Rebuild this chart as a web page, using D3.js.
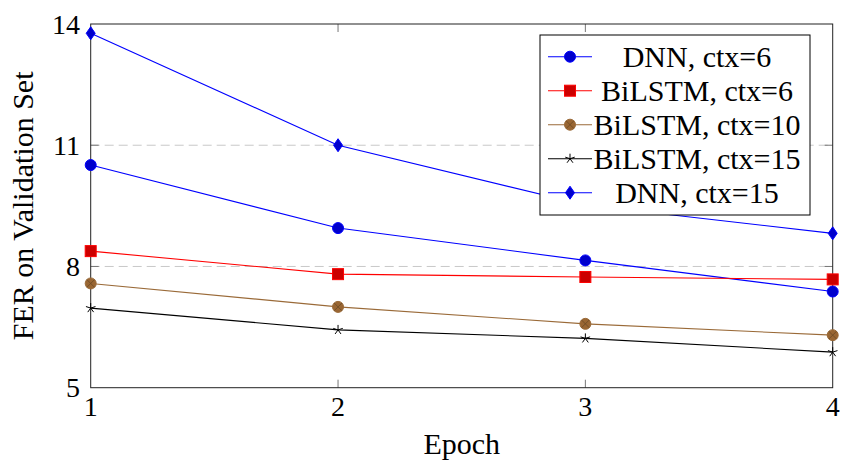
<!DOCTYPE html>
<html>
<head>
<meta charset="utf-8">
<script src="https://cdn.jsdelivr.net/npm/d3@7"></script>
<style>
  body { margin: 0; background: #fff; }
  svg { display: block; }
  text { font-family: "Liberation Serif", "DejaVu Serif", serif; fill: #000; }
</style>
</head>
<body>
<svg id="chart" width="844" height="465"></svg>
<script>
// data
let epochs = [1, 2, 3, 4];
let yTicks = [5, 8, 11, 14];
let dnn6 = [10.51, 8.95, 8.15, 7.38];
let bilstm6 = [8.38, 7.81, 7.74, 7.68];
let bilstm10 = [7.58, 7.0, 6.58, 6.30];
let bilstm15 = [6.97, 6.43, 6.22, 5.88];
let dnn15 = [13.77, 11.0, 9.52, 8.82];

let seriesNames = ["DNN, ctx=6", "BiLSTM, ctx=6", "BiLSTM, ctx=10", "BiLSTM, ctx=15", "DNN, ctx=15"];
let seriesValues = [dnn6, bilstm6, bilstm10, bilstm15, dnn15];
let lineColors = ["#0000ff", "#ff0000", "#9a6a38", "#000000", "#0000ff"];
let fillColors = ["#0000cc", "#cc0000", "#996633", "#000000", "#0000cc"];
let markTypes = ["circle", "square", "otimes", "star", "diamond"];

let svg = d3.select("#chart");

let pLeft = 90.7, pRight = 832.7, pTop = 24, pBottom = 387.7;

let x = d3.scaleLinear().domain([1, 4]).range([pLeft, pRight]);
let y = d3.scaleLinear().domain([5, 14]).range([pBottom, pTop]);

// grid
svg.append("g")
  .selectAll("line")
  .data(yTicks.slice(1, -1))
  .enter()
  .append("line")
  .attr("x1", pLeft).attr("x2", pRight)
  .attr("y1", d => y(d)).attr("y2", d => y(d))
  .attr("stroke", "#c8c8c8")
  .attr("stroke-width", 1)
  .attr("stroke-dasharray", "9,5");

// tick marks (inside, on all four sides)
let tickLen = 8;
let ticks = svg.append("g").attr("stroke", "#777").attr("stroke-width", 1);
epochs.slice(1, -1).forEach(function(d){
  ticks.append("line").attr("x1", x(d)).attr("x2", x(d)).attr("y1", pBottom).attr("y2", pBottom - tickLen);
  ticks.append("line").attr("x1", x(d)).attr("x2", x(d)).attr("y1", pTop).attr("y2", pTop + tickLen);
});
yTicks.slice(1, -1).forEach(function(d){
  ticks.append("line").attr("x1", pLeft).attr("x2", pLeft + tickLen).attr("y1", y(d)).attr("y2", y(d));
  ticks.append("line").attr("x1", pRight).attr("x2", pRight - tickLen).attr("y1", y(d)).attr("y2", y(d));
});

// frame
svg.append("rect")
  .attr("x", pLeft).attr("y", pTop)
  .attr("width", pRight - pLeft).attr("height", pBottom - pTop)
  .attr("fill", "none")
  .attr("stroke", "#222")
  .attr("stroke-width", 1);

// tick labels
svg.append("g")
  .selectAll("text")
  .data(yTicks)
  .enter()
  .append("text")
  .attr("x", 80)
  .attr("y", d => y(d) + 9.5)
  .attr("text-anchor", "end")
  .style("font-size", "28px")
  .text(d => d);

svg.append("g")
  .selectAll("text")
  .data(epochs)
  .enter()
  .append("text")
  .attr("x", d => x(d))
  .attr("y", 416)
  .attr("text-anchor", "middle")
  .style("font-size", "28px")
  .text(d => d);

// axis titles
svg.append("text")
  .attr("x", (pLeft + pRight) / 2)
  .attr("y", 454)
  .attr("text-anchor", "middle")
  .style("font-size", "30px")
  .text("Epoch");

svg.append("text")
  .attr("transform", "translate(33," + ((pTop + pBottom) / 2) + ") rotate(-90)")
  .attr("text-anchor", "middle")
  .style("font-size", "30px")
  .text("FER on Validation Set");

// marker drawing
function drawMark(g, type, cx, cy, stroke, fill){
  if(type == "circle"){
    g.append("circle").attr("cx", cx).attr("cy", cy).attr("r", 5.5)
      .attr("fill", fill).attr("stroke", stroke).attr("stroke-width", 1);
  }
  else if(type == "square"){
    g.append("rect").attr("x", cx - 5.5).attr("y", cy - 5.5).attr("width", 11).attr("height", 11)
      .attr("fill", fill).attr("stroke", stroke).attr("stroke-width", 1);
  }
  else if(type == "otimes"){
    g.append("circle").attr("cx", cx).attr("cy", cy).attr("r", 5.5)
      .attr("fill", fill).attr("stroke", stroke).attr("stroke-width", 1);
    let k = 5.5 * Math.SQRT1_2;
    g.append("path")
      .attr("d", `M${cx - k},${cy - k}L${cx + k},${cy + k}M${cx - k},${cy + k}L${cx + k},${cy - k}`)
      .attr("stroke", "#6b4a26").attr("stroke-width", 0.8);
  }
  else if(type == "star"){
    let p = "";
    for(let i = 0; i < 5; i++){
      let a = -Math.PI / 2 + i * 2 * Math.PI / 5;
      p += `M${cx},${cy}L${cx + 5 * Math.cos(a)},${cy + 5 * Math.sin(a)}`;
    }
    g.append("path").attr("d", p).attr("stroke", stroke).attr("stroke-width", 1).attr("fill", "none");
  }
  else if(type == "diamond"){
    g.append("path")
      .attr("d", `M${cx},${cy - 6.5}L${cx + 4.5},${cy}L${cx},${cy + 6.5}L${cx - 4.5},${cy}Z`)
      .attr("fill", fill).attr("stroke", stroke).attr("stroke-width", 1);
  }
}

let line = d3.line()
  .x((d, i) => x(epochs[i]))
  .y(d => y(d));

seriesValues.forEach(function(vals, s){
  let g = svg.append("g");
  g.append("path")
    .attr("d", line(vals))
    .attr("fill", "none")
    .attr("stroke", lineColors[s])
    .attr("stroke-width", 1.1);
  vals.forEach(function(v, i){
    drawMark(g, markTypes[s], x(epochs[i]), y(v), lineColors[s], fillColors[s]);
  });
});

// legend
let legend = svg.append("g");
legend.append("rect")
  .attr("x", 540).attr("y", 35)
  .attr("width", 270).attr("height", 180)
  .attr("fill", "#fff")
  .attr("stroke", "#000")
  .attr("stroke-width", 1);

seriesNames.forEach(function(name, s){
  let ry = 56.7 + s * 34;
  legend.append("line")
    .attr("x1", 548).attr("x2", 592)
    .attr("y1", ry).attr("y2", ry)
    .attr("stroke", lineColors[s])
    .attr("stroke-width", 1.1);
  drawMark(legend, markTypes[s], 570, ry, lineColors[s], fillColors[s]);
  legend.append("text")
    .attr("x", 697)
    .attr("y", ry + 10)
    .attr("text-anchor", "middle")
    .style("font-size", "30px")
    .text(name);
});
</script>
</body>
</html>
